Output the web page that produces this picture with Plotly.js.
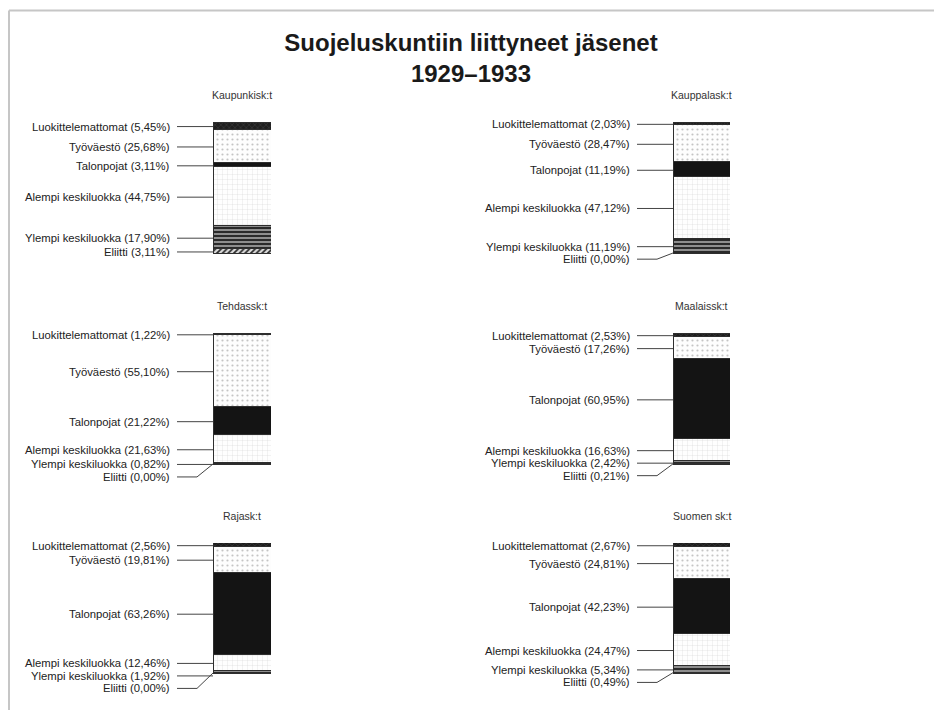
<!DOCTYPE html>
<html><head><meta charset="utf-8">
<script src="https://cdn.plot.ly/plotly-3.0.1.min.js"></script>
<style>html,body{margin:0;padding:0;background:#fff}</style>
</head><body><div id="chart" style="width:934px;height:710px"></div>
<script>
// ---------- data ----------
const panels = ["Kaupunkisk:t", "Kauppalask:t", "Tehdassk:t", "Maalaissk:t", "Rajask:t", "Suomen sk:t"];
const groups = ["Luokittelemattomat", "Työväestö", "Talonpojat", "Alempi keskiluokka", "Ylempi keskiluokka", "Eliitti"];
const luokittelemattomat = [5.45, 2.03, 1.22, 2.53, 2.56, 2.67];
const tyovaesto          = [25.68, 28.47, 55.10, 17.26, 19.81, 24.81];
const talonpojat         = [3.11, 11.19, 21.22, 60.95, 63.26, 42.23];
const alempiKeskiluokka  = [44.75, 47.12, 21.63, 16.63, 12.46, 24.47];
const ylempiKeskiluokka  = [17.90, 11.19, 0.82, 2.42, 1.92, 5.34];
const eliitti            = [3.11, 0.00, 0.00, 0.21, 0.00, 0.49];
const seriesValues = [luokittelemattomat, tyovaesto, talonpojat, alempiKeskiluokka, ylempiKeskiluokka, eliitti];
const titleLines = ["Suojeluskuntiin liittyneet jäsenet", "1929–1933"];

// ---------- layout constants (pixels) ----------
const W = 934, H = 710;
const colDomain = [[20, 271], [480, 730]];
const colBar = [[213, 271], [673, 730]];
const rowBar = [[122, 253], [333, 464], [543, 673]];
const padBelow = 26;
const labelGap = 12.5;
const styles = [
  {color: '#222', pattern: {shape: 'x', bgcolor: '#1e1e1e', fgcolor: '#555', size: 4, solidity: 0.15}},
  {color: '#fdfdfd', pattern: {shape: '.', bgcolor: '#fdfdfd', fgcolor: '#c4c4c4', size: 5, solidity: 0.15}},
  {color: '#141414'},
  {color: '#fdfdfd', pattern: {shape: '+', bgcolor: '#fefefe', fgcolor: '#d0d0d0', size: 5, solidity: 0.1}},
  {color: '#9a9a9a', pattern: {shape: '-', bgcolor: '#8e8e8e', fgcolor: '#2a2a2a', size: 4, solidity: 0.5}},
  {color: '#d8d8d8', pattern: {shape: '/', bgcolor: '#dcdcdc', fgcolor: '#2a2a2a', size: 4, solidity: 0.45}}
];
const fmt = v => v.toFixed(2).replace('.', ',');

const traces = [];
const annotations = [];
const layout = {
  width: W, height: H,
  margin: {l: 0, r: 0, t: 0, b: 0},
  paper_bgcolor: '#fff', plot_bgcolor: 'rgba(0,0,0,0)',
  barmode: 'stack', showlegend: false, hovermode: false,
  font: {family: 'Liberation Sans, Arial, sans-serif', color: '#222'},
  title: {
    text: titleLines.join('<br>'),
    x: 471 / W, xanchor: 'center', y: 1 - 50.5 / H, yanchor: 'middle',
    font: {family: 'Liberation Sans, Arial, sans-serif', size: 24, color: '#1a1a1a', weight: 'bold'}
  },
  shapes: [
    {type: 'line', xref: 'paper', yref: 'paper', x0: 9 / W, x1: 1, y0: 1 - 10.5 / H, y1: 1 - 10.5 / H, line: {color: '#c6c6c6', width: 2}},
    {type: 'line', xref: 'paper', yref: 'paper', x0: 9 / W, x1: 9 / W, y0: 1 - 10.5 / H, y1: 0, line: {color: '#c6c6c6', width: 2}}
  ],
  annotations: annotations
};

panels.forEach((name, p) => {
  const col = p % 2, row = Math.floor(p / 2);
  const [L, R] = colDomain[col];
  const [bl, br] = colBar[col];
  const bw = br - bl;
  const [T, B] = rowBar[row];
  const k = (B - T) / 100;
  const sfx = p === 0 ? '' : String(p + 1);
  const xa = 'x' + sfx, ya = 'y' + sfx;
  layout['xaxis' + sfx] = {domain: [L / W, R / W], range: [0.5 - (R - L) / bw, 0.5], visible: false, fixedrange: true, anchor: ya};
  layout['yaxis' + sfx] = {domain: [1 - (B + padBelow) / H, 1 - T / H], range: [-padBelow / k, 100], visible: false, fixedrange: true, anchor: xa};

  // bars: stack from bottom (last group) upward
  for (let g = groups.length - 1; g >= 0; g--) {
    const st = styles[g];
    const marker = {color: st.color, line: {color: '#2e2e2e', width: 1}};
    if (st.pattern) marker.pattern = Object.assign({fillmode: 'replace'}, st.pattern);
    traces.push({type: 'bar', x: [0], y: [seriesValues[g][p]], width: [1], xaxis: xa, yaxis: ya,
      marker: marker, name: groups[g], hoverinfo: 'skip'});
  }

  // label positions: centre of each segment, spread to avoid overlap
  let top = 100;
  const centers = [], labelPx = [];
  groups.forEach((g, gi) => {
    const v = seriesValues[gi][p];
    const c = top - v / 2; top -= v;
    centers.push(c);
    let py = T + (100 - c) * k + 1;
    if (gi > 0 && py < labelPx[gi - 1] + labelGap) py = labelPx[gi - 1] + labelGap;
    labelPx.push(py);
  });
  const lx = [], ly = [];
  const xLabel = -0.5 - 41 / bw, xStart = -0.5 - 36 / bw, xKnee = -0.5 - 16 / bw;
  groups.forEach((g, gi) => {
    const yl = 100 - (labelPx[gi] - T) / k;
    const shifted = Math.abs(yl - centers[gi]) * k > 5;
    annotations.push({xref: xa, yref: ya, x: xLabel, y: yl, xanchor: 'right', yanchor: 'middle',
      text: g + ' (' + fmt(seriesValues[gi][p]) + '%)', showarrow: false,
      font: {size: 11.3, color: '#222'}});
    lx.push(xStart, xKnee, -0.5, null);
    ly.push(yl, yl, shifted ? centers[gi] : yl, null);
  });
  traces.push({type: 'scatter', mode: 'lines', x: lx, y: ly, xaxis: xa, yaxis: ya,
    line: {color: '#444', width: 1}, hoverinfo: 'skip', cliponaxis: false, connectgaps: false});

  annotations.push({xref: 'paper', yref: 'paper', x: ((bl + br) / 2) / W, y: 1 - (T - 27) / H,
    xanchor: 'center', yanchor: 'middle', text: name, showarrow: false,
    font: {size: 10.5, color: '#333'}});
});

Plotly.newPlot('chart', traces, layout, {displayModeBar: false, staticPlot: true});
</script></body></html>
